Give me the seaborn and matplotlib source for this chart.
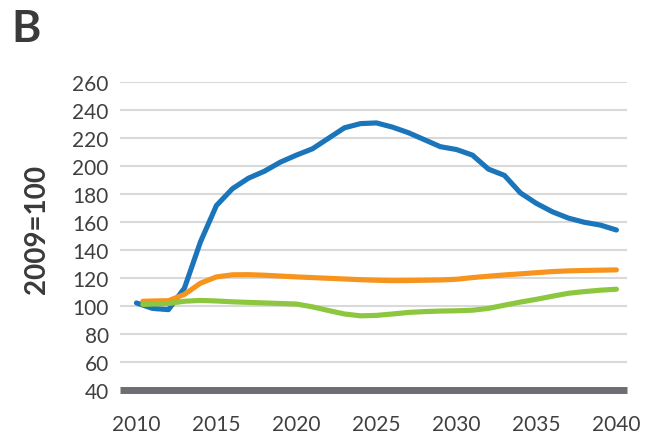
import numpy as np
import pandas as pd
import matplotlib
matplotlib.use("Agg")
import matplotlib.pyplot as plt
import seaborn as sns

# Index values (2009 = 100)
years_blue = list(range(2010, 2041))
blue = [102.4, 98.5, 97.6, 113, 146, 172, 184, 191.5, 196.5, 203, 208,
        212.5, 220, 227.5, 230.5, 231, 228, 224, 219, 214, 212, 208, 198,
        193.5, 181, 173.5, 167.5, 163, 160, 158, 154.5]

years_other = [2010.4] + list(range(2011, 2041))
orange = [103.6, 103.8, 104.0, 108.5, 116.5, 121.0, 122.5, 122.6, 122.2,
          121.6, 121.0, 120.5, 120.0, 119.5, 119.0, 118.6, 118.3, 118.4,
          118.6, 118.8, 119.3, 120.5, 121.5, 122.4, 123.2, 124.0, 124.8,
          125.3, 125.6, 125.8, 126.0]
green = [101.3, 101.6, 102.0, 103.6, 104.2, 103.8, 103.2, 102.8, 102.4,
         102.0, 101.6, 99.6, 97.0, 94.5, 93.2, 93.5, 94.5, 95.6, 96.2,
         96.6, 96.8, 97.2, 98.5, 100.8, 103.0, 105.0, 107.2, 109.3, 110.5,
         111.5, 112.2]

series_names = ["blue", "orange", "green"]
palette = {"blue": "#1b75bb", "orange": "#f7941d", "green": "#8dc63f"}

df = pd.concat([
    pd.DataFrame({"year": years_blue, "index": blue, "series": "blue"}),
    pd.DataFrame({"year": years_other, "index": orange, "series": "orange"}),
    pd.DataFrame({"year": years_other, "index": green, "series": "green"}),
], ignore_index=True)

sns.set_theme(style="white")
plt.rcParams["font.family"] = ["Lato", "DejaVu Sans"]

fig = plt.figure(figsize=(6.57, 4.39), dpi=100)
ax = fig.add_axes([0.1826, 0.1087, 0.7717, 0.7015])

# gridlines
for v in range(60, 261, 20):
    ax.axhline(v, color="#d9d9d9", lw=1.5, zorder=0)

sns.lineplot(data=df, x="year", y="index", hue="series", hue_order=series_names,
             palette=palette, linewidth=3.7, legend=False, ax=ax,
             solid_capstyle="round", sort=False)

# baseline
ax.axhline(40, color="#6d6e71", lw=5.0, zorder=3, solid_capstyle="butt",
           clip_on=False)

ax.set_xlim(2008.97, 2040.66)
ax.set_ylim(40, 260)
ax.set_yticks(range(40, 261, 20))
ax.set_xticks(range(2010, 2041, 5))
ax.tick_params(axis="both", length=0, labelsize=15, labelcolor="#404040")
ax.tick_params(axis="y", pad=8)
ax.tick_params(axis="x", pad=17)
for s in ax.spines.values():
    s.set_visible(False)
ax.set_xlabel("")
ax.set_ylabel("")

fig.text(37 / 657, 1 - 229 / 439, "2009=100", fontsize=20, fontweight="bold",
         color="#3a3a3a", rotation=90, ha="center", va="center")

fig.text(0.018, 0.905, "B", fontsize=32, fontweight="bold", color="#3a3a3a")

fig.savefig("out.png", dpi=100)
